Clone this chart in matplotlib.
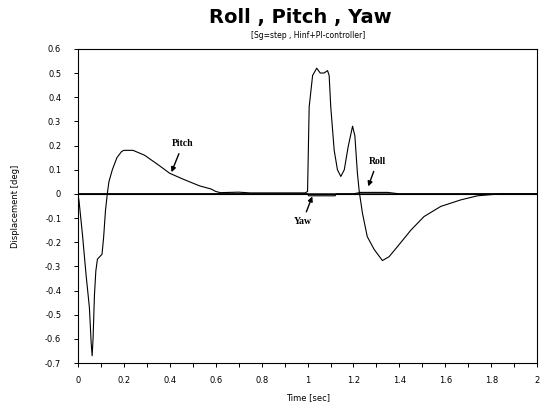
import numpy as np
from matplotlib import pyplot as plt

t_pitch = [0, 0.005, 0.02, 0.035, 0.05, 0.058, 0.062, 0.066, 0.072, 0.078,
           0.085, 0.095, 0.105, 0.112, 0.12, 0.128, 0.135, 0.15, 0.17, 0.19,
           0.2, 0.24, 0.29, 0.35, 0.4, 0.46, 0.53, 0.58, 0.6, 0.62, 0.7,
           0.75, 0.99, 1.0, 1.007, 1.022, 1.04, 1.055, 1.072, 1.087, 1.094,
           1.101, 1.116, 1.13, 1.145, 1.16, 1.177, 1.196, 1.206, 1.217,
           1.225, 1.239, 1.26, 1.29, 1.326, 1.355, 1.39, 1.45, 1.507, 1.58,
           1.667, 1.74, 1.84, 2.0]
pitch = [0, -0.03, -0.17, -0.33, -0.47, -0.62, -0.67, -0.6, -0.42, -0.32,
         -0.27, -0.26, -0.25, -0.18, -0.07, 0.0, 0.05, 0.10, 0.15, 0.175,
         0.18, 0.18, 0.16, 0.12, 0.085, 0.06, 0.033, 0.02, 0.01, 0.005, 0.007,
         0.004, 0.004, 0.01, 0.36, 0.49, 0.52, 0.50, 0.50, 0.51, 0.49,
         0.36, 0.18, 0.10, 0.072, 0.10, 0.196, 0.28, 0.24, 0.086,
         0.01, -0.08, -0.177, -0.23, -0.276, -0.26, -0.22, -0.15, -0.094, -0.052,
         -0.025, -0.008, 0.0, 0.0]

t_roll = [0, 1.0, 1.2, 1.23, 1.35, 1.4, 2.0]
roll = [0, 0, 0, 0.006, 0.006, 0, 0]

t_yaw = [0, 1.0, 1.005, 1.12, 1.125, 2.0]
yaw = [0, 0, -0.008, -0.008, 0, 0]

xticks = np.round(np.arange(0, 2.01, 0.1), 1)
xlabels = [(f"{v:g}" if round(v * 10) % 2 == 0 else "") for v in xticks]
yticks = np.round(np.arange(-0.7, 0.61, 0.1), 1)
ylabels = ["0" if v == 0 else f"{v:g}" for v in yticks]

fig = plt.figure(figsize=(5.41, 4.07), dpi=100)
ax = fig.add_axes([0.144, 0.108, 0.849, 0.772])

ax.plot(t_pitch, pitch, color="black", lw=0.8)
ax.plot(t_roll, roll, color="black", lw=0.8)
ax.plot(t_yaw, yaw, color="black", lw=0.8)
ax.axhline(0, color="black", lw=0.8)

ax.set_xlim(0, 2)
ax.set_ylim(-0.7, 0.6)
ax.set_xticks(xticks)
ax.set_xticklabels(xlabels, fontsize=6)
ax.set_yticks(yticks)
ax.set_yticklabels(ylabels, fontsize=6)
ax.tick_params(axis="x", length=3, width=0.7, pad=6)
ax.tick_params(axis="y", length=3, width=0.7, pad=9)
for s in ax.spines.values():
    s.set_linewidth(0.8)

ax.set_xlabel("Time [sec]", fontsize=6, labelpad=6)
ax.set_ylabel("Displacement [deg]", fontsize=6, labelpad=18)

fig.text(0.555, 0.958, "Roll , Pitch , Yaw", ha="center", va="center",
         fontsize=14, fontweight="bold")
fig.text(0.57, 0.912, "[Sg=step , Hinf+PI-controller]", ha="center",
         va="center", fontsize=5.5)

ann = dict(fontsize=7, fontweight="bold", family="Liberation Serif",
           ha="center", va="center")
arrow = dict(arrowstyle="-|>", color="black", lw=1.0, mutation_scale=7)
ax.annotate("Pitch", xy=(0.403, 0.079), xytext=(0.457, 0.207),
            arrowprops=arrow, **ann)
ax.annotate("Roll", xy=(1.26, 0.02), xytext=(1.304, 0.134),
            arrowprops=arrow, **ann)
ax.annotate("Yaw", xy=(1.025, 0.0), xytext=(0.978, -0.115),
            arrowprops=arrow, **ann)

fig.savefig("out.png", dpi=100)
